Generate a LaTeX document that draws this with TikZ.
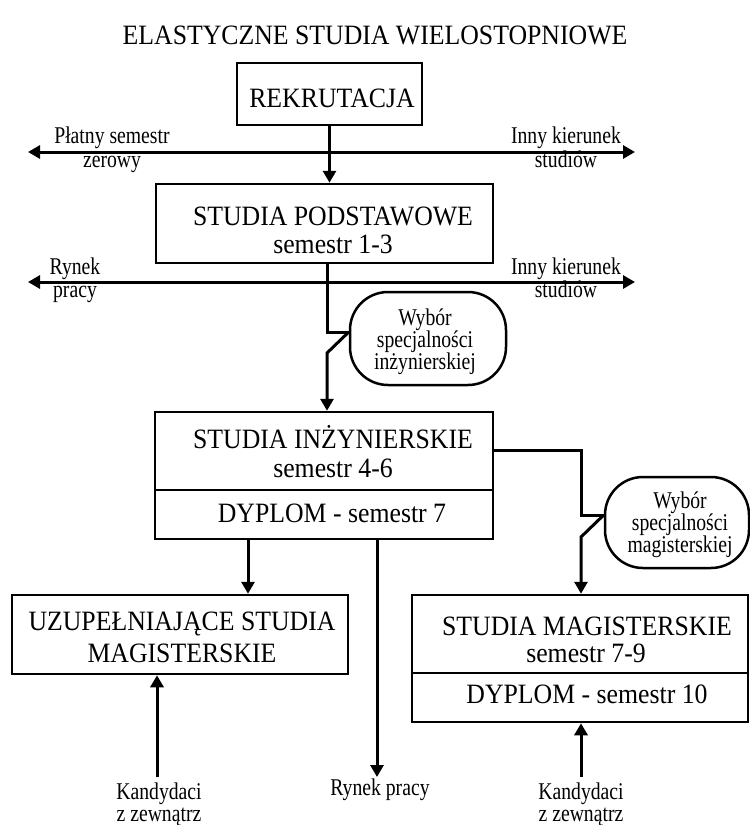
\documentclass[tikz,border=0pt]{standalone}
\usepackage{fontspec}
\setmainfont{Liberation Serif}
\newfontfamily\bigfont[FakeStretch=0.92]{Liberation Serif}
\newfontfamily\smallfont[FakeStretch=0.82]{Liberation Serif}
\usetikzlibrary{arrows.meta}
\begin{document}
\begin{tikzpicture}[x=1pt,y=-1pt,
  box/.style={draw,line width=2.5pt,inner sep=0pt},
  big/.style={font=\bigfont\fontsize{28}{30}\selectfont,inner sep=0pt,anchor=base},
  small/.style={font=\smallfont\fontsize{24}{24}\selectfont,inner sep=0pt,anchor=base},
  conn/.style={line width=3pt},
  tip/.tip={Triangle[length=12pt,width=13pt]},
  arr/.style={conn,-tip},
  callout/.style={draw,line width=2.5pt,rounded corners=38pt,inner sep=0pt}]
\useasboundingbox (0,0) rectangle (750,825);

% title
\node[big] (title) at (375,44) {ELASTYCZNE STUDIA WIELOSTOPNIOWE};

% boxes
\node[box,minimum width=185pt,minimum height=62pt] (rek) at (329.5,94) {};
\node[big] (rekt) at (332,107) {REKRUTACJA};

\node[box,minimum width=337pt,minimum height=79pt] (sp) at (324.5,223.5) {};
\node[big] (spt1) at (333,225) {STUDIA PODSTAWOWE};
\node[big] (spt2) at (333,253) {semestr 1-3};

\node[box,minimum width=338pt,minimum height=127pt] (si) at (324,475.5) {};
\node[big] (sit1) at (333,448) {STUDIA INŻYNIERSKIE};
\node[big] (sit2) at (333,477) {semestr 4-6};
\node[big] (sit3) at (332,522) {DYPLOM - semestr 7};
\coordinate (dv1) at (0,490);
\draw[line width=2.5pt] (si.west |- dv1) -- (si.east |- dv1);

\node[box,minimum width=336pt,minimum height=79pt] (uz) at (180,634.5) {};
\node[big] (uzt1) at (182,630) {UZUPEŁNIAJĄCE STUDIA};
\node[big] (uzt2) at (182,662) {MAGISTERSKIE};

\node[box,minimum width=336pt,minimum height=127pt] (sm) at (580,658.5) {};
\node[big] (smt1) at (587,635) {STUDIA MAGISTERSKIE};
\node[big] (smt2) at (586,662) {semestr 7-9};
\node[big] (smt3) at (587,703) {DYPLOM - semestr 10};
\coordinate (dv2) at (0,673);
\draw[line width=2.5pt] (sm.west |- dv2) -- (sm.east |- dv2);

% callouts
\node[callout,minimum width=156pt,minimum height=93pt] (c1) at (428,338.5) {};
\node[small] (c1t1) at (425,325) {Wybór};
\node[small] (c1t2) at (425,347) {specjalności};
\node[small] (c1t3) at (425,369) {inżynierskiej};

\node[callout,minimum width=144pt,minimum height=91pt] (c2) at (677,522.5) {};
\node[small] (c2t1) at (680,508) {Wybór};
\node[small] (c2t2) at (680,530) {specjalności};
\node[small] (c2t3) at (680,552) {magisterskiej};

% horizontal arrows
\coordinate (l1w) at (28,152);
\coordinate (l1e) at (635,152);
\draw[conn,tip-tip] (l1w) -- (l1e);
\node[small] (l1a) at (112,143) {Płatny semestr};
\node[small] (l1b) at (112,167) {zerowy};
\node[small] (l1c) at (566,143) {Inny kierunek};
\node[small] (l1d) at (566,167) {studiów};

\coordinate (l2w) at (28,282);
\coordinate (l2e) at (635,282);
\draw[conn,tip-tip] (l2w) -- (l2e);
\node[small] (l2a) at (75,274) {Rynek};
\node[small] (l2b) at (75,297) {pracy};
\node[small] (l2c) at (566,274) {Inny kierunek};
\node[small] (l2d) at (566,297) {studiów};

% rekrutacja -> podstawowe
\draw[arr] (rek.south) -- (rek.south |- sp.north);

% podstawowe -> switch -> inzynierskie
\coordinate (s1) at (327,332);
\coordinate (d1) at (327,353);
\draw[conn] (sp.south -| s1) -- (s1) -- (c1.west |- s1);
\draw[arr] (c1.west |- s1) -- (d1) -- (d1 |- si.north);

% inzynierskie -> switch -> magisterskie
\coordinate (j1) at (581,450);
\coordinate (j2) at (581,515);
\coordinate (j3) at (581,537);
\draw[conn] (si.east |- j1) -- (j1) -- (j2) -- (c2.west |- j2);
\draw[arr] (c2.west |- j2) -- (j3) -- (j3 |- sm.north);

% inzynierskie -> uzupelniajace, rynek pracy
\coordinate (xl) at (248,0);
\draw[arr] (si.south -| xl) -- (uz.north -| xl);
\coordinate (rp) at (377,777);
\draw[arr] (si.south -| rp) -- (rp);
\node[small] (rpt) at (380,795) {Rynek pracy};

% kandydaci
\coordinate (k1) at (157,777);
\draw[arr] (k1) -- (k1 |- uz.south);
\node[small] (k1a) at (159,799) {Kandydaci};
\node[small] (k1b) at (159,821) {z zewnątrz};

\coordinate (k2) at (581,777);
\draw[arr] (k2) -- (k2 |- sm.south);
\node[small] (k2a) at (581,799) {Kandydaci};
\node[small] (k2b) at (581,821) {z zewnątrz};
\end{tikzpicture}
\end{document}
